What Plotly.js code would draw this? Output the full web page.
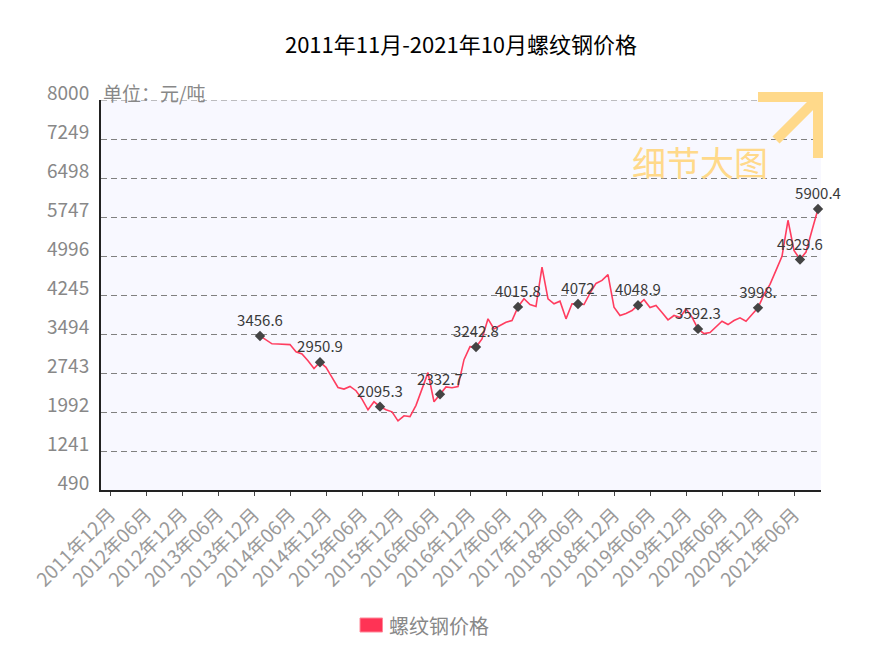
<!DOCTYPE html>
<html>
<head>
<meta charset="utf-8">
<script src="https://cdn.plot.ly/plotly-3.0.1.min.js"></script>
<style>html,body{margin:0;padding:0;background:#fff;}#chart{width:873px;height:653px;}</style>
</head>
<body>
<div id="chart"></div>
<script>
// Months 2011年11月 .. 2021年10月
const months = [
  "2011年11月","2011年12月",
  "2012年01月","2012年02月","2012年03月","2012年04月","2012年05月","2012年06月","2012年07月","2012年08月","2012年09月","2012年10月","2012年11月","2012年12月",
  "2013年01月","2013年02月","2013年03月","2013年04月","2013年05月","2013年06月","2013年07月","2013年08月","2013年09月","2013年10月","2013年11月","2013年12月",
  "2014年01月","2014年02月","2014年03月","2014年04月","2014年05月","2014年06月","2014年07月","2014年08月","2014年09月","2014年10月","2014年11月","2014年12月",
  "2015年01月","2015年02月","2015年03月","2015年04月","2015年05月","2015年06月","2015年07月","2015年08月","2015年09月","2015年10月","2015年11月","2015年12月",
  "2016年01月","2016年02月","2016年03月","2016年04月","2016年05月","2016年06月","2016年07月","2016年08月","2016年09月","2016年10月","2016年11月","2016年12月",
  "2017年01月","2017年02月","2017年03月","2017年04月","2017年05月","2017年06月","2017年07月","2017年08月","2017年09月","2017年10月","2017年11月","2017年12月",
  "2018年01月","2018年02月","2018年03月","2018年04月","2018年05月","2018年06月","2018年07月","2018年08月","2018年09月","2018年10月","2018年11月","2018年12月",
  "2019年01月","2019年02月","2019年03月","2019年04月","2019年05月","2019年06月","2019年07月","2019年08月","2019年09月","2019年10月","2019年11月","2019年12月",
  "2020年01月","2020年02月","2020年03月","2020年04月","2020年05月","2020年06月","2020年07月","2020年08月","2020年09月","2020年10月","2020年11月","2020年12月",
  "2021年01月","2021年02月","2021年03月","2021年04月","2021年05月","2021年06月","2021年07月","2021年08月","2021年09月","2021年10月"
];

// 螺纹钢价格 (元/吨); no data before 2014年01月
const prices = [
  null,null,
  null,null,null,null,null,null,null,null,null,null,null,null,
  null,null,null,null,null,null,null,null,null,null,null,null,
  3456.6,3380,3305,3300,3300,3290,3150,3110,2980,2830,2950.9,2852,
  2660,2465,2434,2485,2402,2241,2034,2189,2095.3,2034,1995,1822,
  1919,1905,2120,2430,2750,2189,2332.7,2475,2460,2480,3000,3250,
  3242.8,3400,3786,3593,3657,3720,3753,4015.8,4172,4062,4024,4783,
  4172,4076,4126,3786,4076,4072,4062,4281,4468,4526,4636,4010,
  3850,3889,3946,4048.9,4153,4004,4043,3908,3767,3850,3812,3979,
  3817,3592.3,3502,3522,3638,3740,3676,3753,3805,3740,3869,3998,
  4256,4449,4719,4990,5684,5105,4929.6,5072,5491,5900.4
];

// Labelled points
const labelMonths = ["2014年01月","2014年11月","2015年09月","2016年07月","2017年01月","2017年08月","2018年06月","2019年04月","2020年02月","2020年12月","2021年07月","2021年10月"];
const labelValues = [3456.6,2950.9,2095.3,2332.7,3242.8,4015.8,4072,4048.9,3592.3,3998,4929.6,5900.4];
const labelTexts  = ["3456.6","2950.9","2095.3","2332.7","3242.8","4015.8","4072","4048.9","3592.3","3998.","4929.6","5900.4"];

// Axis ticks
const xTicks = ["2011年12月","2012年06月","2012年12月","2013年06月","2013年12月","2014年06月","2014年12月","2015年06月","2015年12月","2016年06月","2016年12月","2017年06月","2017年12月","2018年06月","2018年12月","2019年06月","2019年12月","2020年06月","2020年12月","2021年06月"];
const yTicks = [490,1241,1992,2743,3494,4245,4996,5747,6498,7249,8000];

const FONT = '"Noto Sans CJK SC", "DejaVu Sans", sans-serif';
const GRID = '#808080';

const traces = [
  {
    type: 'scatter', mode: 'lines', name: '螺纹钢价格',
    x: months, y: prices, connectgaps: false,
    line: {color: '#ff3d5f', width: 1.6},
    hoverinfo: 'skip', showlegend: false
  },
  {
    type: 'scatter', mode: 'markers+text',
    x: labelMonths, y: labelValues, text: labelTexts,
    textposition: 'top center',
    textfont: {family: FONT, size: 15, color: '#3a3a3a'},
    marker: {symbol: 'diamond', size: 8, color: '#444'},
    hoverinfo: 'skip', showlegend: false, cliponaxis: false
  }
];

const layout = {
  width: 873, height: 653,
  margin: {l: 101, r: 52, t: 100, b: 163},
  paper_bgcolor: '#ffffff',
  plot_bgcolor: '#f8f8ff',
  showlegend: false,
  font: {family: FONT, color: '#888'},
  title: {
    text: '2011年11月-2021年10月螺纹钢价格',
    font: {family: FONT, size: 22, color: '#000'},
    x: 0.5, xref: 'paper', xanchor: 'center',
    y: 1 - 45/653, yref: 'container', yanchor: 'middle'
  },
  xaxis: {
    type: 'category',
    categoryorder: 'array', categoryarray: months,
    range: [-0.5, months.length - 0.5],
    tickmode: 'array', tickvals: xTicks, ticktext: xTicks,
    tickangle: -45,
    tickfont: {family: FONT, size: 19, color: '#9a9a9a'},
    ticks: 'outside', ticklen: 4, tickcolor: '#444', tickwidth: 1,
    showgrid: false, zeroline: false,
    showline: true, linecolor: '#222', linewidth: 2,
    fixedrange: true
  },
  yaxis: {
    range: [490, 8000],
    tickmode: 'array', tickvals: yTicks, ticktext: yTicks.map(String),
    tickfont: {family: FONT, size: 19, color: '#888'},
    ticklabelshift: -7,
    ticks: '', ticklabelstandoff: 6,
    showgrid: true, gridcolor: GRID, gridwidth: 1, griddash: '6px,4px',
    zeroline: false,
    showline: true, linecolor: '#222', linewidth: 2,
    fixedrange: true
  },
  annotations: [
    {
      text: '单位：元/吨', xref: 'paper', yref: 'paper',
      x: 0, y: (490 - 92) / 390, xanchor: 'left', yanchor: 'middle',
      showarrow: false, font: {family: FONT, size: 19, color: '#888'}
    },
    {
      text: '细节大图', xref: 'paper', yref: 'paper',
      x: (700 - 101) / 720, y: (490 - 161) / 390, xanchor: 'center', yanchor: 'middle',
      showarrow: false, font: {family: FONT, size: 34, color: '#ffd98a'}
    },
    {
      text: '螺纹钢价格', xref: 'paper', yref: 'paper',
      x: (387 - 101) / 720, y: (490 - 625) / 390, xanchor: 'left', yanchor: 'middle',
      showarrow: false, font: {family: FONT, size: 20, color: '#888'}
    }
  ],
  shapes: [
    // top gridline at the 8000 edge (Plotly skips grid at the range edge)
    {type: 'line', xref: 'paper', yref: 'y', layer: 'below',
     x0: 0, x1: 1, y0: yTicks[yTicks.length - 1], y1: yTicks[yTicks.length - 1],
     line: {color: GRID, width: 1, dash: '6px,4px'}},
    // legend swatch
    {type: 'rect', xref: 'paper', yref: 'paper',
     x0: (360 - 101) / 720, x1: (382.5 - 101) / 720,
     y0: (490 - 618) / 390, y1: (490 - 632) / 390,
     fillcolor: '#ff3355', line: {color: '#ff8899', width: 1}},
    // "细节大图" arrow
    {type: 'line', xref: 'paper', yref: 'paper',
     x0: (758 - 101) / 720, x1: (823 - 101) / 720,
     y0: (490 - 97) / 390, y1: (490 - 97) / 390,
     line: {color: '#ffd98a', width: 10}},
    {type: 'line', xref: 'paper', yref: 'paper',
     x0: (818 - 101) / 720, x1: (818 - 101) / 720,
     y0: (490 - 92) / 390, y1: (490 - 158) / 390,
     line: {color: '#ffd98a', width: 10}},
    {type: 'line', xref: 'paper', yref: 'paper',
     x0: (776 - 101) / 720, x1: (815 - 101) / 720,
     y0: (490 - 140) / 390, y1: (490 - 101) / 390,
     line: {color: '#ffd98a', width: 10}}
  ]
};

Plotly.newPlot('chart', traces, layout, {displayModeBar: false, staticPlot: true});
</script>
</body>
</html>
